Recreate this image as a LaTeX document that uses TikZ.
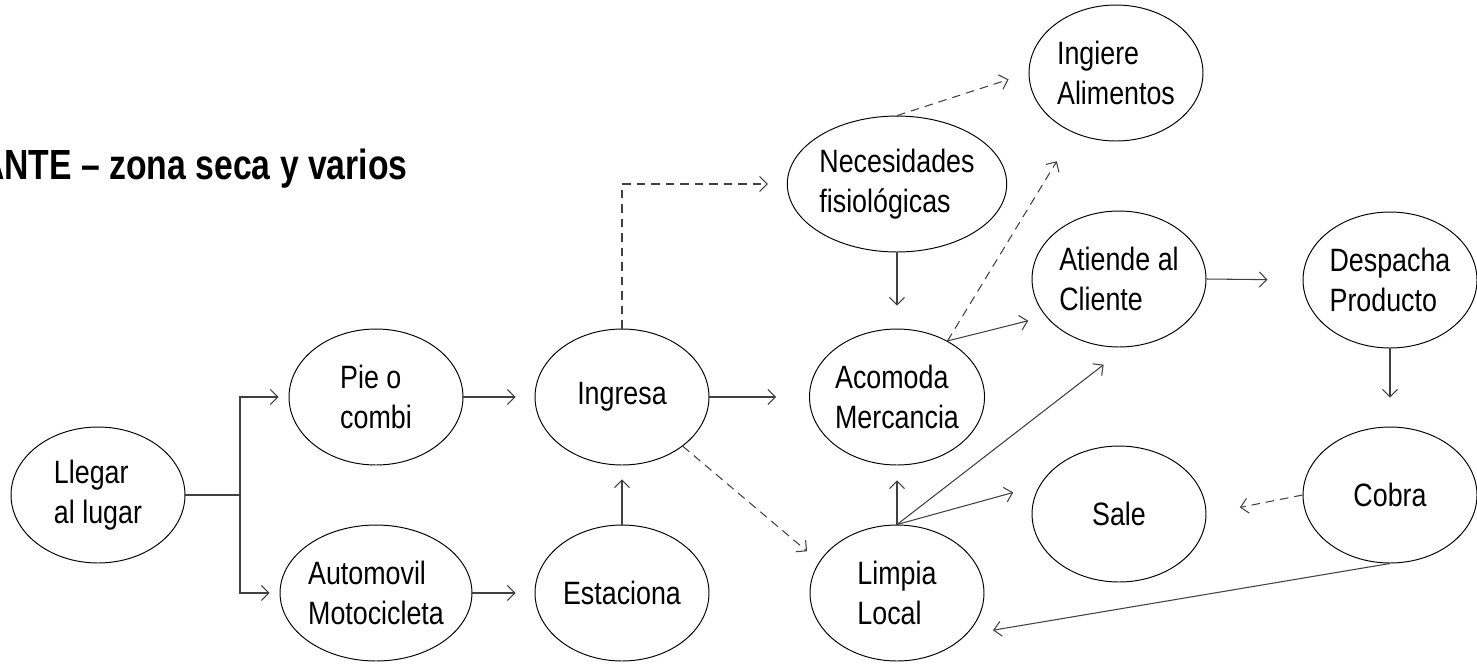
\documentclass[tikz,border=0pt]{standalone}
\usepackage{fontspec}
\newfontfamily\nodefont[FakeStretch=0.83]{Liberation Sans}
\newfontfamily\titlefont[FakeStretch=0.8]{Liberation Sans}
\usetikzlibrary{shapes.geometric,arrows.meta}
\begin{document}
\begin{tikzpicture}[x=0.02cm,y=-0.02cm,
  bub/.style={ellipse,draw=black,line width=0.55pt,minimum width=3.48cm,minimum height=2.72cm,
    inner sep=0pt,align=left,font=\nodefont\fontsize{18.4}{22.7}\selectfont},
  conn/.style={draw=black!75,line width=0.6pt},
  arr/.style={conn,-{Straight Barb[length=0.15cm,width=0.3cm]}},
  dsh/.style={dash pattern=on 0.17cm off 0.12cm}]
\useasboundingbox (0,0) rectangle (1477,664);

\node[anchor=base east,inner sep=0pt,font=\titlefont\bfseries\fontsize{24}{28}\selectfont] (title) at (408,179) {ANTE – zona seca y varios};

\node[bub] (llegar) at (98,495) {Llegar\\al lugar};
\node[bub] (pie) at (376,397) {Pie o\\combi};
\node[bub] (auto) at (376,593) {Automovil\\Motocicleta};
\node[bub] (ingresa) at (622,397) {Ingresa};
\node[bub] (estaciona) at (622,593) {Estaciona};
\node[bub] (necesidades) at (897,184) {Necesidades\\fisiológicas};
\node[bub] (ingiere) at (1116,73) {Ingiere\\Alimentos};
\node[bub] (acomoda) at (897,397) {Acomoda\\Mercancia};
\node[bub] (atiende) at (1119,279) {Atiende al\\Cliente};
\node[bub] (despacha) at (1390,280) {Despacha\\Producto};
\node[bub] (limpia) at (897,593) {Limpia\\Local};
\node[bub] (sale) at (1119,514) {Sale};
\node[bub] (cobra) at (1390,495) {Cobra};

\coordinate (br) at (240,495);
\draw[conn] (llegar.east) -- (br);
\draw[arr,shorten >=0.2cm] (br) |- (pie.west);
\draw[arr,shorten >=0.2cm] (br) |- (auto.west);

\draw[arr,shorten >=0.38cm] (pie.east) -- (ingresa.west);
\draw[arr,shorten >=0.38cm] (auto.east) -- (estaciona.west);
\draw[arr,shorten >=0.28cm] (estaciona.north) -- (ingresa.south);
\draw[arr,shorten >=0.66cm] (ingresa.east) -- (acomoda.west);
\draw[arr,dsh,shorten >=0.38cm] (ingresa.north) |- (necesidades.west);
\draw[arr,dsh,shorten >=0.32cm] (ingresa.-39) -- (limpia.158);

\draw[arr,dsh,shorten >=0.42cm] (necesidades.north) -- (ingiere.west);
\draw[arr,shorten >=0.46cm] (necesidades.south) -- (acomoda.north);
\draw[arr,dsh,shorten >=0.66cm] (acomoda.48) -- (ingiere.235);
\draw[arr,shorten >=0.36cm] (acomoda.48) -- (atiende.207);
\draw[arr,shorten >=0.7cm] (atiende.east) -- (despacha.west);
\draw[arr,shorten >=0.58cm] (despacha.south) -- (cobra.north);
\draw[arr,dsh,shorten >=0.68cm] (cobra.west) -- (sale.east);

\draw[arr,shorten >=0.3cm] (limpia.north) -- (acomoda.south);
\draw[arr,shorten >=0.57cm] (limpia.north) -- (atiende.-84);
\draw[arr,shorten >=0.55cm] (limpia.north) -- (sale.160);
\draw[arr,shorten >=0.54cm] (cobra.south) -- (limpia.-31);
\end{tikzpicture}
\end{document}
